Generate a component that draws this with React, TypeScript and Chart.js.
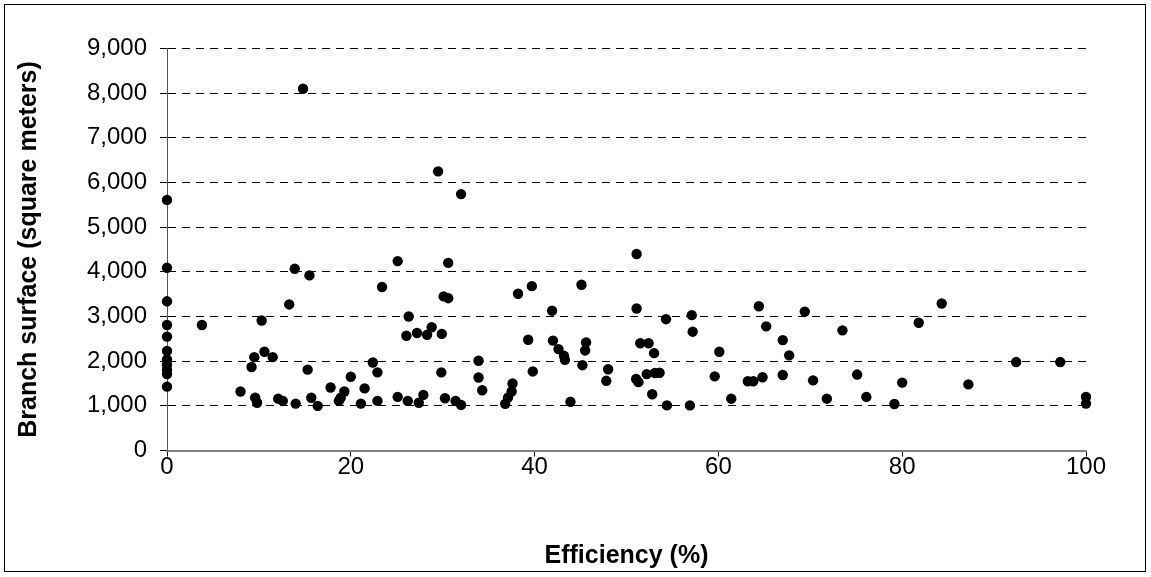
import React, { useEffect, useRef } from "react";
import { Chart, registerables } from "chart.js";

Chart.register(...registerables);

// Efficiency (%) of each branch
const efficiency: number[] = [
  0, 0, 0, 0, 0, 0, 0, 0, 0, 0, 0,
  3.8, 8.0, 9.2, 9.5, 9.6, 9.8, 10.3, 10.6, 11.5, 12.1, 12.6, 13.3, 13.9, 14.0, 14.8,
  15.3, 15.5, 15.7, 16.4, 17.8, 18.7, 18.9, 19.3, 20.0, 21.1, 21.5, 22.4, 22.9, 22.9, 23.4,
  25.1, 29.5, 32.0, 30.6, 26.3, 26.05, 27.2, 28.3, 28.8, 29.9, 30.1, 30.6, 29.85,
  25.1, 26.2, 27.4, 27.9, 30.25, 31.4, 32.0, 33.9, 33.9, 34.3, 36.8, 37.1, 37.5, 37.6,
  38.2, 39.7, 39.3, 39.8, 41.9, 42.0, 42.6, 43.2, 43.3, 43.9, 45.1, 45.6, 45.5, 45.2, 47.8, 48.0,
  51.1, 51.1, 51.5, 52.4, 53.0, 54.3, 57.1, 57.2, 51.05, 51.3, 52.2, 53.1, 53.6, 52.8, 54.4, 56.9,
  59.6, 60.1, 61.4, 63.2, 63.8, 64.8, 64.4, 65.2, 67.0, 67.7, 67.0, 69.4, 70.3, 71.8, 73.5,
  75.1, 76.1, 79.15, 80.0, 81.8, 84.3, 87.2, 92.4, 97.2, 100, 100,
];

// Branch surface (square meters)
const surface: number[] = [
  5610, 4090, 3340, 2810, 2550, 2230, 2040, 1920, 1810, 1710, 1430,
  2810, 1320, 1870, 2090, 1180, 1070, 2910, 2210, 2090, 1160, 1110, 3270, 4070, 1050, 8100,
  1810, 3920, 1180, 1000, 1410, 1110, 1180, 1320, 1650, 1050, 1390, 1970, 1750, 1110, 3660,
  4240, 6250, 5740, 4200, 3000, 2570, 2630, 2590, 2760, 2610, 3450, 3410, 1750,
  1200, 1110, 1070, 1245, 1170, 1110, 1020, 2010, 1635, 1350, 1045, 1185, 1320, 1500,
  3510, 3680, 2480, 1770, 3130, 2460, 2270, 2120, 2030, 1090, 3710, 2420, 2240, 1910, 1560, 1820,
  4400, 3180, 2400, 2400, 2180, 2940, 3030, 2660, 1600, 1530, 1710, 1735, 1740, 1260, 1010, 1010,
  1660, 2210, 1160, 1550, 1550, 1640, 3230, 2780, 2470, 2130, 1690, 3110, 1570, 1160, 2690,
  1700, 1200, 1040, 1520, 2860, 3290, 1480, 1980, 1980, 1200, 1050,
];

const xTicksMin = 0;
const xTicksMax = 100;
const xTickStep = 20;
const yTicksMin = 0;
const yTicksMax = 9000;
const yTickStep = 1000;

const xTitle = "Efficiency (%)";
const yTitle = "Branch surface (square meters)";

const FONT = "'Liberation Sans', Arial, Helvetica, sans-serif";

const frame = {
  id: "frame",
  afterDraw(chart: any) {
    const ctx = chart.ctx;
    ctx.save();
    ctx.strokeStyle = "#000";
    ctx.lineWidth = 1;
    ctx.strokeRect(4.5, 4.5, 1141, 567);
    ctx.restore();
  },
};

export default function App() {
  const ref = useRef<HTMLCanvasElement | null>(null);

  useEffect(() => {
    if (!ref.current) return;
    const points = efficiency.map((x, i) => ({ x, y: surface[i] }));
    const chart = new Chart(ref.current, {
      type: "scatter",
      data: {
        datasets: [
          {
            data: points,
            pointRadius: 5.2,
            pointHoverRadius: 5.2,
            backgroundColor: "#000",
            borderColor: "#000",
            borderWidth: 0,
            clip: false as any,
          },
        ],
      },
      plugins: [frame],
      options: {
        animation: false,
        responsive: false,
        devicePixelRatio: 1,
        layout: { padding: { left: 0, right: 65, top: 48.5, bottom: 0 } },
        plugins: {
          legend: { display: false },
          tooltip: { enabled: false },
        },
        scales: {
          x: {
            type: "linear",
            min: xTicksMin,
            max: xTicksMax,
            ticks: {
              stepSize: xTickStep,
              color: "#000",
              padding: -4,
              font: { family: FONT, size: 24 },
              maxRotation: 0,
            },
            grid: {
              drawOnChartArea: false,
              drawTicks: true,
              tickLength: 6,
              tickColor: "#000",
              tickWidth: 1,
            },
            border: { display: true, color: "#808080", width: 2 },
            title: {
              display: true,
              text: xTitle,
              color: "#000",
              font: { family: FONT, size: 25, weight: "bold" },
              padding: { top: 0, bottom: 6 },
            },
            afterFit: (scale: any) => {
              scale.height = 577 - 450.5;
            },
          },
          y: {
            type: "linear",
            min: yTicksMin,
            max: yTicksMax,
            ticks: {
              stepSize: yTickStep,
              color: "#000",
              padding: 13,
              font: { family: FONT, size: 24 },
              callback: (v: any) => Number(v).toLocaleString("en-US"),
            },
            grid: {
              color: (c: any) => (c.tick && c.tick.value === 0 ? "rgba(0,0,0,0)" : "#000"),
              lineWidth: 1,
              drawTicks: true,
              tickLength: 7,
              tickColor: "#000",
              tickWidth: 1,
            },
            border: { display: true, color: "#555", width: 1, dash: [8, 6] },
            title: {
              display: true,
              text: yTitle,
              color: "#000",
              font: { family: FONT, size: 25, weight: "bold" },
              padding: { top: 14, bottom: 0 },
            },
            afterFit: (scale: any) => {
              scale.width = 167;
            },
          },
        },
      } as any,
    });
    return () => chart.destroy();
  }, []);

  return (
    <div style={{ position: "fixed", left: 0, top: 0, width: 1151, height: 577, background: "#fff" }}>
      <canvas ref={ref} width={1151} height={577} style={{ display: "block" }} />
    </div>
  );
}
